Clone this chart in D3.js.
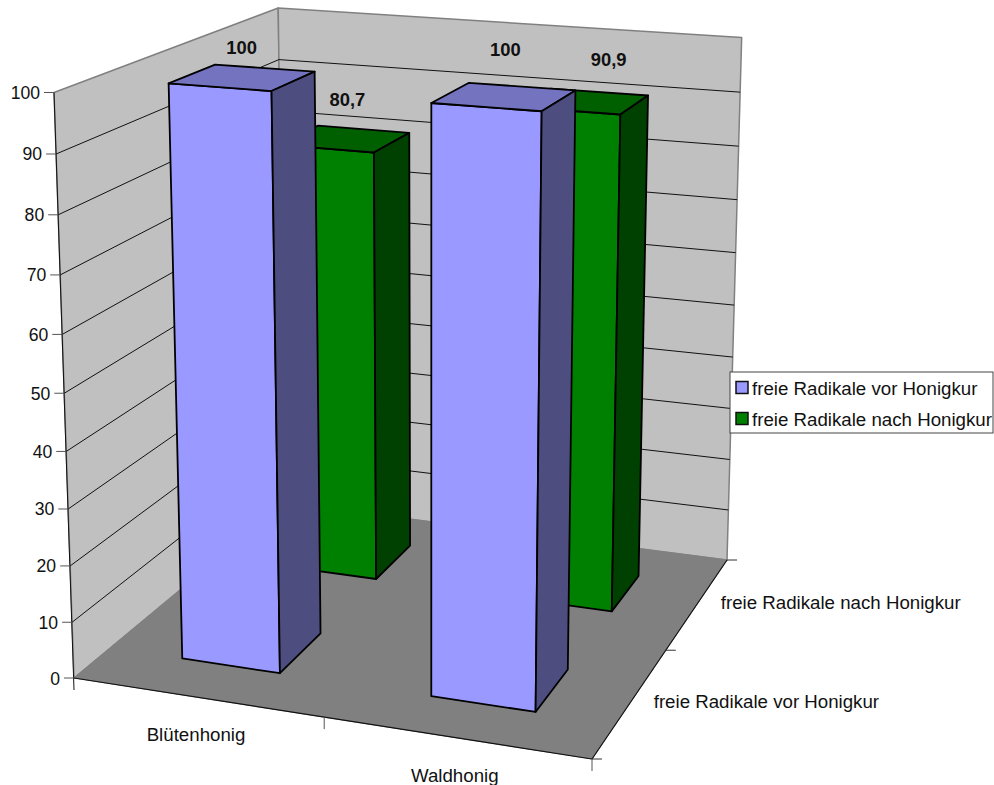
<!DOCTYPE html>
<meta charset="utf-8">
<title>Freie Radikale</title>
<style>
body { margin: 0; background: #fff; }
svg { display: block; }
text { font-family: "Liberation Sans", Arial, sans-serif; font-size: 18.7px; fill: #111; }
.vtick { font-size: 17.6px; }
.barlabel { font-weight: bold; font-size: 18.4px; text-anchor: middle; }
</style>
<body>
<svg width="994" height="785" id="chart"></svg>
<script src="https://d3js.org/d3.v7.min.js"></script>
<script>
// data
var categories = ["Blütenhonig", "Waldhonig"];
var seriesNames = ["freie Radikale vor Honigkur", "freie Radikale nach Honigkur"];
var vorValues = [100, 100];
var nachValues = [80.7, 90.9];
var valueTicks = [0, 10, 20, 30, 40, 50, 60, 70, 80, 90, 100];
var valueLabels = ["100", "100"];
var nachLabels = ["80,7", "90,9"];

// colours per series: front, top, side
var vorFaces = ["#9999ff", "#7373bf", "#4d4d80"];
var nachFaces = ["#008000", "#006000", "#004000"];

var svg = d3.select("#chart");

// corners of the 3d box as seen on screen
var floorA = [74, 678], floorB = [592, 759], floorC = [727, 560], floorD = [285, 503];
var topA = [54, 92.5], topD = [277, 9], topC = [742, 35];

// plane -> screen homography for the floor (u along categories, v along depth)
function floorMatrix(p0, p1, p2, p3) {
    var dx1 = p1[0] - p2[0], dx2 = p3[0] - p2[0], sx = p0[0] - p1[0] + p2[0] - p3[0];
    var dy1 = p1[1] - p2[1], dy2 = p3[1] - p2[1], sy = p0[1] - p1[1] + p2[1] - p3[1];
    var den = dx1 * dy2 - dx2 * dy1;
    var g = (sx * dy2 - dx2 * sy) / den, h = (dx1 * sy - sx * dy1) / den;
    return {
        u: [p1[0] - p0[0] + g * p1[0], p1[1] - p0[1] + g * p1[1], g],
        v: [p3[0] - p0[0] + h * p3[0], p3[1] - p0[1] + h * p3[1], h],
        o: [p0[0], p0[1], 1]
    };
}
var cam = floorMatrix(floorA, floorB, floorC, floorD);
// the height column comes from the wall corners (least squares over both back corners)
var qD = cam.v, qC = [0, 1, 2].map(function(i) { return cam.u[i] + cam.v[i]; });
var num = 0, den2 = 0;
[[topD, qD], [topC, qC]].forEach(function(r) {
    [0, 1].forEach(function(i) {
        var a = topA[i] - r[0][i], b = r[0][i] * r[1][2] - r[1][i];
        num += a * b;
        den2 += a * a;
    });
});
var s = num / den2;
cam.w = [s * topA[0] - cam.o[0], s * topA[1] - cam.o[1], s - cam.o[2]];

function project(u, v, w) {
    var k = [0, 1, 2].map(function(i) {
        return cam.u[i] * u + cam.v[i] * v + cam.w[i] * w + cam.o[i];
    });
    return [k[0] / k[2], k[1] / k[2]];
}

var xBand = d3.scaleBand().domain(categories).range([0, 1]).paddingInner(0.6).paddingOuter(0.3);
var zBand = d3.scaleBand().domain(seriesNames).range([0, 1]).paddingInner(0.6).paddingOuter(0.3);
var yScale = d3.scaleLinear().domain([0, 100]).range([0, 1]);
var line = d3.line();

function poly(pts, fill, stroke, width) {
    svg.append("path")
        .attr("d", line(pts) + "Z")
        .attr("fill", fill)
        .attr("stroke", stroke)
        .attr("stroke-width", width)
        .attr("stroke-linejoin", "round");
}
function seg(a, b, color, width) {
    svg.append("path").attr("d", line([a, b])).attr("fill", "none")
        .attr("stroke", color).attr("stroke-width", width);
}

// walls and floor
poly([project(0, 0, 0), project(0, 1, 0), project(0, 1, 1), project(0, 0, 1)], "#c0c0c0", "#808080", 1.5);
poly([project(0, 1, 0), project(1, 1, 0), project(1, 1, 1), project(0, 1, 1)], "#c0c0c0", "#808080", 1.5);
poly([project(0, 0, 0), project(1, 0, 0), project(1, 1, 0), project(0, 1, 0)], "#808080", "#808080", 1);

// gridlines
valueTicks.slice(1, -1).forEach(function(t) {
    var w = yScale(t);
    seg(project(0, 0, w), project(0, 1, w), "#111", 1);
    seg(project(0, 1, w), project(1, 1, w), "#111", 1);
});

// value axis
seg(project(0, 0, 1), [project(0, 0, 0)[0], project(0, 0, 0)[1] + 12], "#111", 1);
svg.selectAll(".vtick").data(valueTicks).enter().append("text")
    .attr("class", "vtick")
    .attr("text-anchor", "end")
    .attr("x", function(d) { return project(0, 0, yScale(d))[0] - 14; })
    .attr("y", function(d) { return project(0, 0, yScale(d))[1] + 6.5; })
    .text(function(d) { return d; });
valueTicks.forEach(function(t) {
    var p = project(0, 0, yScale(t));
    seg([p[0] - 10, p[1]], p, "#555", 1);
});

// front edges and their ticks
seg(project(0, 0, 0), project(1, 0, 0), "#111", 1.2);
seg(project(1, 0, 0), project(1, 1, 0), "#111", 1.2);
[0.5, 1].forEach(function(u) {
    var p = project(u, 0, 0);
    seg(p, [p[0], p[1] + 12], "#555", 1);
});
[0, 0.5, 1].forEach(function(v) {
    var p = project(1, v, 0);
    seg(p, [p[0] + 10, p[1]], "#333", 1);
});

// axis labels
categories.forEach(function(c) {
    var p = project(xBand(c) + xBand.bandwidth() / 2, 0, 0);
    svg.append("text").attr("text-anchor", "middle")
        .attr("x", p[0] - 1).attr("y", p[1] + 44).text(c);
});
seriesNames.forEach(function(n) {
    var p = project(1, zBand(n) + zBand.bandwidth() / 2, 0);
    svg.append("text").attr("x", p[0] + 23).attr("y", p[1] + 6).text(n);
});

// bars, back row first
function drawBars(name, values, faces) {
    var v0 = zBand(name), v1 = v0 + zBand.bandwidth();
    values.forEach(function(d, i) {
        var u0 = xBand(categories[i]), u1 = u0 + xBand.bandwidth(), w = yScale(d);
        poly([project(u0, v0, 0), project(u1, v0, 0), project(u1, v0, w), project(u0, v0, w)], faces[0], "#000", 1.8);
        poly([project(u0, v0, w), project(u1, v0, w), project(u1, v1, w), project(u0, v1, w)], faces[1], "#000", 1.8);
        poly([project(u1, v0, 0), project(u1, v1, 0), project(u1, v1, w), project(u1, v0, w)], faces[2], "#000", 1.8);
    });
}
drawBars(seriesNames[1], nachValues, nachFaces);
drawBars(seriesNames[0], vorValues, vorFaces);

// data labels sit above the top face of each bar
var vorNudge = [[-1, -29], [1, -47]];
var nachNudge = [[2, -39], [24, -41]];
function drawLabels(name, values, labels, nudge) {
    var vm = zBand(name) + zBand.bandwidth() / 2;
    values.forEach(function(d, i) {
        var p = project(xBand(categories[i]) + xBand.bandwidth() / 2, vm, yScale(d));
        svg.append("text").attr("class", "barlabel")
            .attr("x", p[0] + nudge[i][0]).attr("y", p[1] + nudge[i][1] + 6)
            .text(labels[i]);
    });
}
drawLabels(seriesNames[1], nachValues, nachLabels, nachNudge);
drawLabels(seriesNames[0], vorValues, valueLabels, vorNudge);

// legend
var legend = svg.append("g").attr("transform", "translate(730,372)");
legend.append("rect").attr("width", 263).attr("height", 61)
    .attr("fill", "#fff").attr("stroke", "#444").attr("stroke-width", 1);
seriesNames.forEach(function(n, i) {
    var row = legend.append("g").attr("transform", "translate(6," + (9.5 + i * 31) + ")");
    row.append("rect").attr("width", 12).attr("height", 12)
        .attr("fill", [vorFaces, nachFaces][i][0])
        .attr("stroke", "#111").attr("stroke-width", 1.5);
    row.append("text").attr("x", 16).attr("y", 13).text(n);
});
</script>
</body>
